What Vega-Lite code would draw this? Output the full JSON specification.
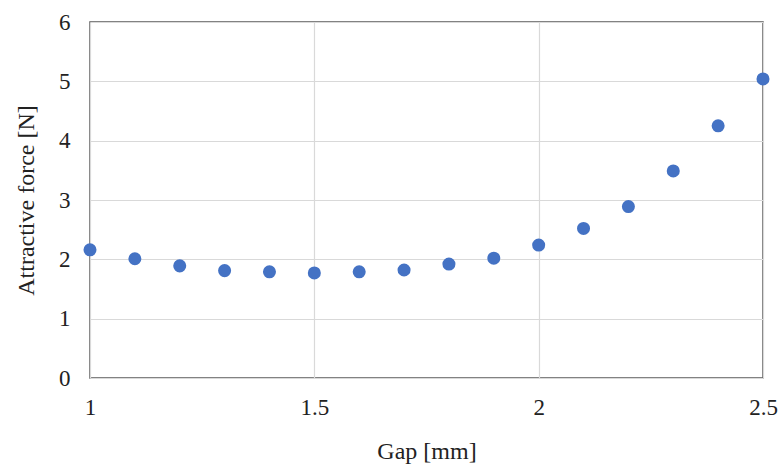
{
  "$schema": "https://vega.github.io/schema/vega-lite/v6.json",
  "width": 673,
  "height": 356,
  "autosize": {"type": "none"},
  "padding": {"left": 90, "top": 22, "right": 18, "bottom": 91},
  "background": "white",
  "config": {
    "view": {"stroke": "#595959", "strokeWidth": 1.5},
    "font": "Liberation Serif"
  },
  "data": {
    "values": [
      {"gap": 1.0, "force": 2.16},
      {"gap": 1.1, "force": 2.01},
      {"gap": 1.2, "force": 1.89},
      {"gap": 1.3, "force": 1.81},
      {"gap": 1.4, "force": 1.79},
      {"gap": 1.5, "force": 1.77},
      {"gap": 1.6, "force": 1.79},
      {"gap": 1.7, "force": 1.82},
      {"gap": 1.8, "force": 1.92},
      {"gap": 1.9, "force": 2.02},
      {"gap": 2.0, "force": 2.24},
      {"gap": 2.1, "force": 2.52},
      {"gap": 2.2, "force": 2.89},
      {"gap": 2.3, "force": 3.49},
      {"gap": 2.4, "force": 4.25},
      {"gap": 2.5, "force": 5.04}
    ]
  },
  "mark": {"type": "point", "filled": true, "opacity": 1, "size": 170, "color": "#4472C4"},
  "encoding": {
    "x": {
      "field": "gap",
      "type": "quantitative",
      "scale": {"domain": [1, 2.5], "nice": false, "zero": false},
      "axis": {
        "title": "Gap [mm]",
        "values": [1, 1.5, 2, 2.5],
        "format": "~g",
        "grid": true,
        "gridColor": "#d9d9d9",
        "gridWidth": 1.2,
        "domain": false,
        "ticks": false,
        "labelPadding": 18,
        "labelFontSize": 23,
        "labelColor": "#222222",
        "labelFlush": false,
        "titleFontSize": 24,
        "titleFontWeight": "normal",
        "titleColor": "#222222",
        "titleY": 61
      }
    },
    "y": {
      "field": "force",
      "type": "quantitative",
      "scale": {"domain": [0, 6], "nice": false},
      "axis": {
        "title": "Attractive force [N]",
        "values": [0, 1, 2, 3, 4, 5, 6],
        "grid": true,
        "gridColor": "#d9d9d9",
        "gridWidth": 1.2,
        "domain": false,
        "ticks": false,
        "labelPadding": 20,
        "labelFontSize": 23,
        "labelColor": "#222222",
        "labelFlush": false,
        "titleFontSize": 24,
        "titleFontWeight": "normal",
        "titleColor": "#222222",
        "titleX": -52
      }
    }
  }
}
